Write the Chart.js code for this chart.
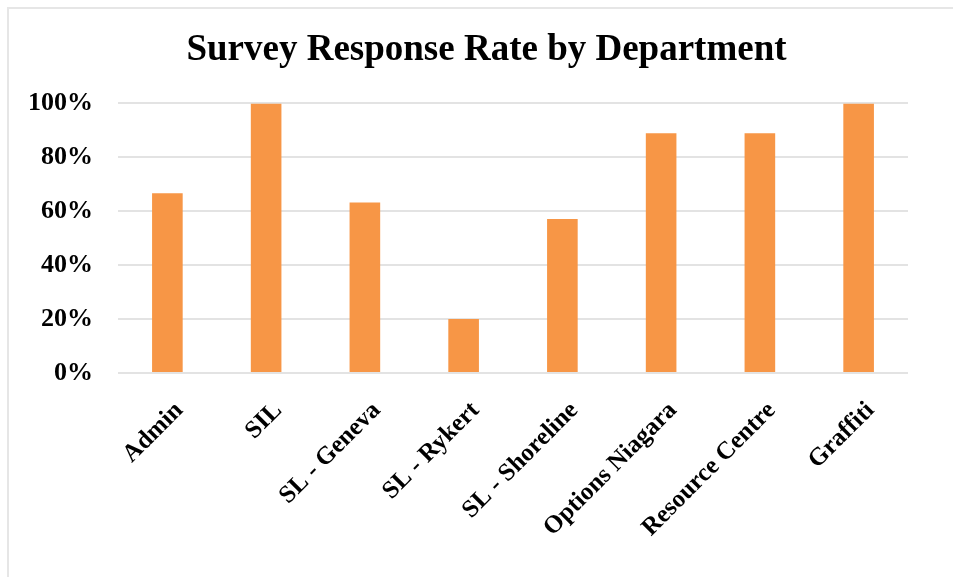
<!DOCTYPE html>
<html>
<head>
<meta charset="utf-8">
<script src="https://cdn.jsdelivr.net/npm/chart.js@4.4.1/dist/chart.umd.min.js"></script>
<style>
  html, body { margin: 0; padding: 0; background: #fff; }
  #wrap { position: relative; width: 953px; height: 577px; overflow: hidden; }
  #frame {
    position: absolute; left: 7px; top: 7px; width: 980px; height: 600px;
    border-left: 2px solid #e6e6e6; border-top: 2px solid #e6e6e6;
  }
  canvas { position: absolute; left: 0; top: 0; }
</style>
</head>
<body>
<div id="wrap">
  <div id="frame"></div>
  <canvas id="chart" width="953" height="577"></canvas>
</div>
<script>
const departments = ['Admin', 'SIL', 'SL - Geneva', 'SL - Rykert', 'SL - Shoreline', 'Options Niagara', 'Resource Centre', 'Graffiti']
const responseRate = [66.7, 100, 63.2, 20, 57.1, 88.9, 88.9, 100]
const yTicks = [0, 20, 40, 60, 80, 100]

const serif = '"Liberation Serif", "DejaVu Serif", serif'

new Chart(document.getElementById('chart'), {
  type: 'bar',
  data: {
    labels: departments,
    datasets: [
      {
        label: 'Response rate',
        data: responseRate,
        backgroundColor: '#F79646',
        barPercentage: 0.31,
        categoryPercentage: 1,
      },
    ],
  },
  options: {
    responsive: false,
    animation: false,
    layout: { padding: { left: 20, right: 0, top: 0, bottom: 0 } },
    plugins: {
      legend: { display: false },
      tooltip: { enabled: false },
      title: {
        display: true,
        text: 'Survey Response Rate by Department',
        color: '#000',
        font: { family: serif, size: 37, weight: 'bold' },
        padding: { top: 28, bottom: 31 },
      },
    },
    scales: {
      x: {
        grid: { display: false },
        border: { display: false },
        ticks: {
          color: '#000',
          font: { family: serif, size: 25, weight: 'bold' },
          minRotation: 45,
          maxRotation: 45,
          padding: 15,
          labelOffset: 12,
        },
        afterFit: (axis) => { axis.height = 204 },
      },
      y: {
        min: 0,
        max: 100,
        afterBuildTicks: (axis) => { axis.ticks = yTicks.map((v) => ({ value: v })) },
        grid: { color: '#e3e3e3', lineWidth: 2, drawTicks: false },
        border: { display: false },
        ticks: {
          color: '#000',
          font: { family: serif, size: 26, weight: 'bold' },
          padding: 25,
          callback: (v) => v + '%',
        },
        afterFit: (axis) => { axis.width = 98 },
      },
      // empty right axis only reserves the gap on the right side
      yRight: {
        position: 'right',
        grid: { display: false },
        border: { display: false },
        ticks: { display: false },
        afterFit: (axis) => { axis.width = 45 },
      },
    },
  },
})
</script>
</body>
</html>
